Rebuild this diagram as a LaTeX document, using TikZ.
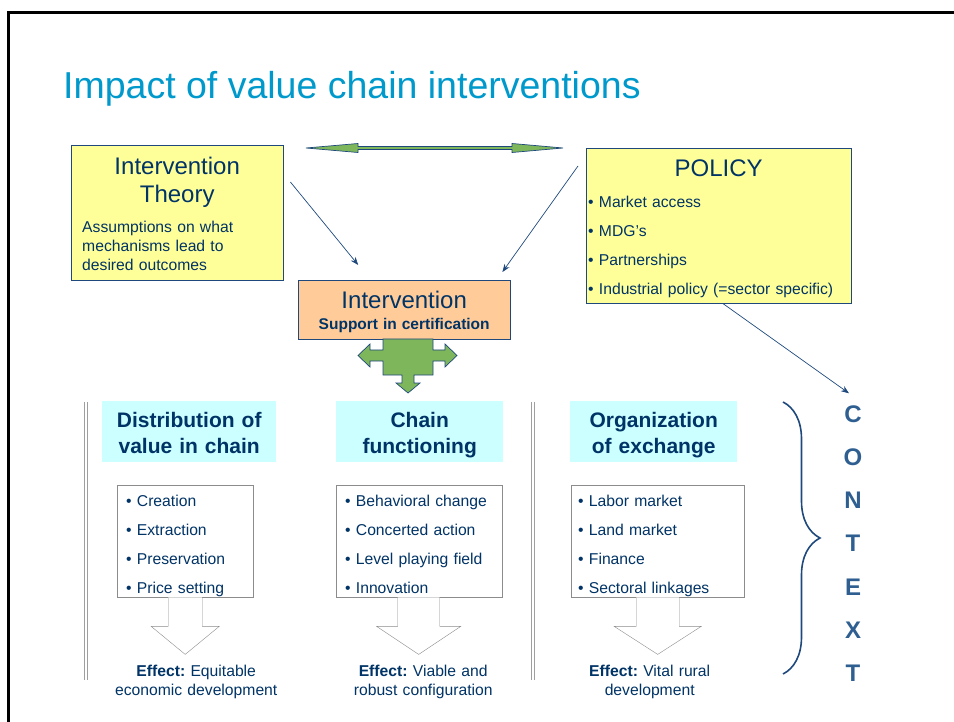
\documentclass[tikz,border=0pt]{standalone}
\usepackage{fontspec}
\setmainfont{Liberation Sans}
\usepackage{xcolor}
\usepackage{tikz}
\usetikzlibrary{arrows, arrows.meta, positioning, shapes, decorations.pathreplacing, calc}

\definecolor{navy}{RGB}{0,51,102}
\definecolor{titleblue}{RGB}{0,153,204}
\definecolor{edgeblue}{RGB}{31,73,125}
\definecolor{steelblue}{RGB}{47,95,145}
\definecolor{paleyellow}{RGB}{255,255,153}
\definecolor{peach}{RGB}{255,204,153}
\definecolor{palecyan}{RGB}{204,255,255}
\definecolor{leafgreen}{RGB}{126,182,92}
\newcommand{\setfs}[2]{\fontsize{#1}{#2}\selectfont}
\frenchspacing

\begin{document}
\begin{tikzpicture}[
    x=1pt, y=-1pt,
    txt/.style={inner sep=0pt, text=navy},
    notebox/.style={
        rectangle,
        draw=edgeblue,
        fill=paleyellow,
        anchor=north west,
        inner sep=0pt
    },
    headbox/.style={
        rectangle,
        fill=palecyan,
        anchor=north west,
        text=navy,
        font=\bfseries\setfs{21}{26},
        align=center,
        inner xsep=0pt,
        minimum height=61pt,
        text height=18pt,
        text depth=27pt
    },
    listbox/.style={
        rectangle,
        draw=gray!90,
        fill=white,
        anchor=north west,
        text=navy,
        font=\setfs{15.7}{29},
        align=left,
        inner xsep=9pt,
        minimum height=112pt,
        text height=12pt,
        text depth=82pt
    },
    effect/.style={txt, anchor=base, font=\setfs{15.7}{19}, align=center, text width=200pt},
    ctx/.style={txt, text=steelblue, font=\bfseries\setfs{24}{28}},
    hollow/.style={draw=gray!90, fill=white},
    arrow/.style={-{Stealth[length=8pt, width=6pt]}, line width=0.7pt, color=edgeblue},
    blockarrow/.style={draw=edgeblue, fill=leafgreen, line width=0.7pt},
    divider/.style={draw=gray!75, line width=0.9pt, double=white, double distance=2pt}
]
\useasboundingbox (0,0) rectangle (954,722);

% Slide frame and title
\draw[line width=2.5pt] (8.3,722) -- (8.3,12.5) -- (954,12.5);
\node[txt, anchor=base west, text=titleblue, font=\setfs{37.5}{44}] (title) at (63,99) {Impact of value chain interventions};

% Top boxes
\node[notebox, minimum width=212pt, minimum height=135pt] (theory) at (71,145) {};
\node[txt, anchor=base, font=\setfs{24}{28}, align=center, text width=200pt] (theorytitle) at ([shift={(0,30)}]theory.north) {Intervention\\Theory};
\node[txt, anchor=base west, font=\setfs{15.7}{19}, align=left, text width=200pt] (theorynote) at ([shift={(11,88)}]theory.north west) {Assumptions on what\\mechanisms lead to\\desired outcomes};

\node[notebox, minimum width=265pt, minimum height=155pt] (policy) at (586,148) {};
\node[txt, anchor=base, font=\setfs{24}{28}] (policytitle) at ([shift={(0,29)}]policy.north) {POLICY};
\node[txt, anchor=base west, font=\setfs{15.7}{28.7}, align=left, text width=260pt] (policylist) at ([shift={(2,60)}]policy.north west) {\textbullet{} Market access\\\textbullet{} MDG's\\\textbullet{} Partnerships\\\textbullet{} Industrial policy (=sector specific)};

\node[rectangle, draw=edgeblue, fill=peach, anchor=north west, minimum width=212pt, minimum height=59pt,
      text width=200pt, align=center, text=navy, font=\setfs{24}{28}, text height=17pt, text depth=20pt] (interv) at (298,280)
      {Intervention\\[-7pt]\setfs{15.5}{21}\bfseries\spaceskip=0pt Support in certification};

% Block arrows
\draw[blockarrow] (306,148) -- (358,143.5) -- (358,146.5) -- (512,146.5) -- (512,143.5) -- (563,148)
    -- (512,152.5) -- (512,149.5) -- (358,149.5) -- (358,152.5) -- cycle;
\draw[blockarrow] (383,339) -- (433,339) -- (433,350) -- (445,350) -- (445,344) -- (457,355.5) -- (445,367)
    -- (445,361) -- (433,361) -- (433,375) -- (414,375) -- (414,383) -- (420,383) -- (408,393) -- (396,383)
    -- (402,383) -- (402,375) -- (383,375) -- (383,361) -- (370,361) -- (370,367) -- (358,355.5) -- (370,344)
    -- (370,350) -- (383,350) -- cycle;

% Columns
\draw[divider] (85.8,402) -- (85.8,680);
\draw[divider] (532.9,402) -- (532.9,680);

\node[headbox, minimum width=174pt, text width=174pt] (disthead) at (102,401) {Distribution of\\value in chain};
\node[headbox, minimum width=167pt, text width=167pt] (chainhead) at (336,401) {Chain\\functioning};
\node[headbox, minimum width=167pt, text width=167pt] (orghead) at (570,401) {Organization\\of exchange};

\node[listbox, minimum width=136pt, text width=118pt] (dist) at (117,485) {\textbullet{} Creation\\\textbullet{} Extraction\\\textbullet{} Preservation\\\textbullet{} Price setting};
\node[listbox, minimum width=166pt, text width=148pt] (chain) at (336,485) {\textbullet{} Behavioral change\\\textbullet{} Concerted action\\\textbullet{} Level playing field\\\textbullet{} Innovation};
\node[listbox, minimum width=173pt, text width=159pt, inner xsep=7pt] (org) at (571,485) {\textbullet{} Labor market\\\textbullet{} Land market\\\textbullet{} Finance\\\textbullet{} Sectoral linkages};

\draw[hollow] ([xshift=-17pt]dist.south) -- ++(0,29) -- ++(-17,0) -- ++(34,28) -- ++(34,-28) -- ++(-17,0) -- ++(0,-29);
\draw[hollow] ([xshift=-21.5pt]chain.south) -- ++(0,29) -- ++(-21,0) -- ++(42,28) -- ++(42,-28) -- ++(-21,0) -- ++(0,-29);
\draw[hollow] ([xshift=-21.5pt]org.south) -- ++(0,29) -- ++(-22,0) -- ++(43.5,28) -- ++(43.5,-28) -- ++(-22,0) -- ++(0,-29);

\node[effect] (disteff) at ([shift={(11,79)}]dist.south) {\textbf{Effect:} Equitable\\economic development};
\node[effect] (chaineff) at ([shift={(4,79)}]chain.south) {\textbf{Effect:} Viable and\\robust configuration};
\node[effect] (orgeff) at ([shift={(-8,79)}]org.south) {\textbf{Effect:} Vital rural\\development};

% Context
\draw[edgeblue, line width=1.6pt, decorate, decoration={brace, amplitude=37pt}] (783,402) -- (783,674);
\foreach \ch [count=\i] in {C,O,N,T,E,X,T}
    \node[ctx] (ctx\i) at (853,{414+43.2*(\i-1)}) {\ch};

% Arrows
\draw[arrow] ([shift={(7,37)}]theory.north east) -- ([shift={(-46,-15)}]interv.north);
\draw[arrow] ([shift={(-8,18)}]policy.north west) -- ([shift={(-8,-8)}]interv.north east);
\draw[arrow] ([shift={(4,0)}]policy.south) -- ([shift={(-4,-12)}]ctx1.north);

\end{tikzpicture}
\end{document}
